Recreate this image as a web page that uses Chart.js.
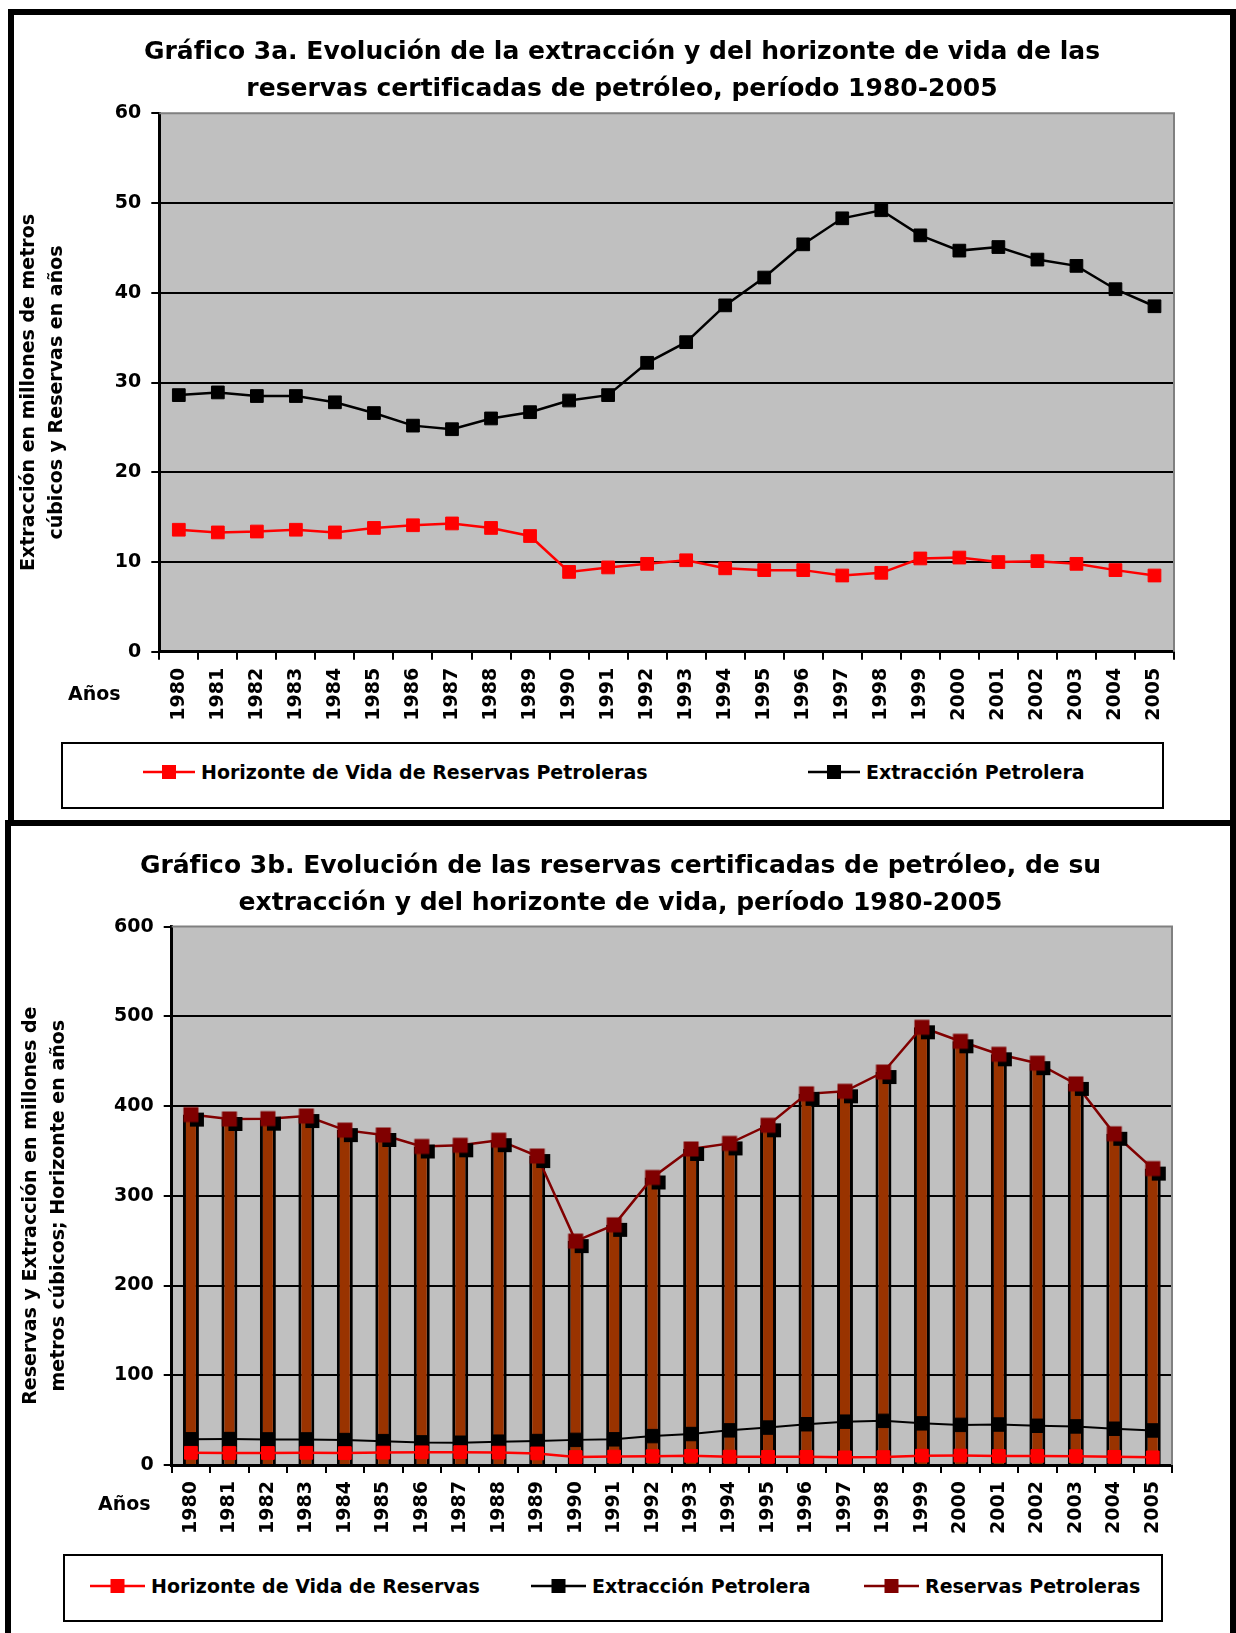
<!DOCTYPE html>
<html lang="es">
<head>
<meta charset="utf-8">
<title>Gráficos 3a y 3b – Reservas y extracción de petróleo 1980-2005</title>
<script src="https://cdn.jsdelivr.net/npm/chart.js@4.4.1/dist/chart.umd.min.js"></script>
<style>
  html, body { margin: 0; padding: 0; background: #fff; width: 1236px; height: 1633px; overflow: hidden; position: relative; }
  .frame { position: absolute; border: 6px solid #000; box-sizing: border-box; }
  #frameA { left: 8px; top: 9px; width: 1228px; height: 817px; }
  #frameB { left: 5px; top: 820px; width: 1231px; height: 830px; }
  canvas { position: absolute; }
  #chartA { left: 14px; top: 15px; }
  #chartB { left: 11px; top: 826px; }
  .legend { position: absolute; border: 2px solid #000; box-sizing: border-box; background: #fff;
            font: bold 19px "DejaVu Sans", sans-serif; color: #000; }
  #legendA { left: 61px; top: 742px; width: 1103px; height: 67px; }
  #legendB { left: 63px; top: 1554px; width: 1100px; height: 68px; }
  .item { position: absolute; height: 22px; line-height: 22px; white-space: nowrap; display: flex; align-items: center; }
  .item svg { display: block; }
</style>
</head>
<body>
<div class="frame" id="frameA"></div>
<div class="frame" id="frameB"></div>
<canvas id="chartA" width="1216" height="805"></canvas>
<canvas id="chartB" width="1219" height="807"></canvas>
<div class="legend" id="legendA"></div>
<div class="legend" id="legendB"></div>

<script>
// ---- Data (1980-2005) ----
const years = ['1980','1981','1982','1983','1984','1985','1986','1987','1988','1989','1990','1991','1992',
               '1993','1994','1995','1996','1997','1998','1999','2000','2001','2002','2003','2004','2005'];

// Extracción petrolera, millones de m³
const extraccion = [28.6, 28.9, 28.5, 28.5, 27.8, 26.6, 25.2, 24.8, 26.0, 26.7, 28.0, 28.6, 32.2,
                    34.5, 38.6, 41.7, 45.4, 48.3, 49.2, 46.4, 44.7, 45.1, 43.7, 43.0, 40.4, 38.5];

// Horizonte de vida de las reservas, años
const horizonte = [13.6, 13.3, 13.4, 13.6, 13.3, 13.8, 14.1, 14.3, 13.8, 12.9, 8.9, 9.4, 9.8,
                   10.2, 9.3, 9.1, 9.1, 8.5, 8.8, 10.4, 10.5, 10.0, 10.1, 9.8, 9.1, 8.5];

// Reservas petroleras certificadas, millones de m³
const reservas = [390.5, 385.6, 386.0, 388.9, 373.2, 367.8, 355.0, 356.3, 362.0, 344.3, 249.5, 267.6, 320.4,
                  352.2, 358.4, 378.6, 413.6, 416.5, 437.9, 487.8, 472.2, 457.7, 447.8, 424.7, 369.1, 330.3];

// Y-axis tick values
const ticksA = [0, 10, 20, 30, 40, 50, 60];
const ticksB = [0, 100, 200, 300, 400, 500, 600];

// ---- Styling ----
const FONT = '"DejaVu Sans", sans-serif';
const RED = '#ff0000';
const BLACK = '#000000';
const MAROON = '#800000';
const BROWN = '#993300';
const PLOT_BG = '#c0c0c0';
const NBSP3 = '\u00a0\u00a0\u00a0';

Chart.defaults.font.family = FONT;
Chart.defaults.color = '#000';

// Square marker with a dark drop shadow, used for the reserves series
function shadowSquare(fill, shadow) {
  const c = document.createElement('canvas');
  c.width = 40; c.height = 40;
  const g = c.getContext('2d');
  g.fillStyle = shadow;
  g.fillRect(20 - 7 + 6, 20 - 7 + 5, 14, 14);
  g.fillStyle = fill;
  g.fillRect(20 - 7.5, 20 - 7.5, 15, 15);
  return c;
}

// Grey plotting area with a grey top/right edge
const plotBackdrop = {
  id: 'plotBackdrop',
  beforeDraw(chart, args, opts) {
    const { ctx, chartArea: a } = chart;
    ctx.save();
    ctx.fillStyle = opts.fill;
    ctx.fillRect(a.left, a.top, a.right - a.left, a.bottom - a.top);
    ctx.restore();
  },
  beforeDatasetsDraw(chart, args, opts) {
    const { ctx, chartArea: a } = chart;
    ctx.save();
    ctx.strokeStyle = opts.edge;
    ctx.lineWidth = 2;
    ctx.beginPath();
    ctx.moveTo(a.left, a.top);
    ctx.lineTo(a.right, a.top);
    ctx.lineTo(a.right, a.bottom);
    ctx.stroke();
    ctx.restore();
  }
};

// "Años" caption to the left of the year labels
const axisCaption = {
  id: 'axisCaption',
  afterDraw(chart, args, opts) {
    const { ctx } = chart;
    ctx.save();
    ctx.font = 'bold 19px ' + FONT;
    ctx.fillStyle = '#000';
    ctx.textBaseline = 'alphabetic';
    ctx.textAlign = 'left';
    ctx.fillText(opts.text, opts.x, opts.y);
    ctx.restore();
  }
};

function xScale(height) {
  return {
    offset: true,
    grid: { offset: true, drawOnChartArea: false, drawTicks: true, tickLength: 8, color: '#000', lineWidth: 2 },
    border: { color: '#000', width: 3 },
    ticks: { minRotation: 90, maxRotation: 90, autoSkip: false, padding: 8, color: '#000',
             font: { family: FONT, size: 19, weight: 'bold' } },
    afterFit(s) { s.height = height; }
  };
}

function yScale(tickValues, width, titleLines, titlePad) {
  const max = tickValues[tickValues.length - 1];
  return {
    min: tickValues[0],
    max: max,
    afterBuildTicks(s) { s.ticks = tickValues.map(v => ({ value: v })); },
    ticks: { padding: 10, color: '#000', font: { family: FONT, size: 19, weight: 'bold' } },
    grid: { color: c => (c.tick && c.tick.value === max) ? 'rgba(0,0,0,0)' : '#000',
            tickColor: '#000', lineWidth: 2, tickLength: 8 },
    border: { color: '#000', width: 3 },
    title: { display: true, text: titleLines, color: '#000',
             font: { family: FONT, size: 19, weight: 'bold', lineHeight: 28 / 19 },
             padding: { top: titlePad, bottom: 0 } },
    afterFit(s) { s.width = width; }
  };
}

// Empty right-hand margin kept as an invisible axis so the title stays centred on the canvas
function rightGutter(width) {
  return {
    position: 'right', display: true,
    grid: { display: false }, border: { display: false }, ticks: { display: false },
    afterFit(s) { s.width = width; }
  };
}

const titleFont = { family: FONT, size: 25, weight: 'bold', lineHeight: 37 / 25 };

// ---- Gráfico 3a ----
new Chart(document.getElementById('chartA'), {
  type: 'line',
  data: {
    labels: years,
    datasets: [
      { label: 'Horizonte de Vida de Reservas Petroleras', data: horizonte,
        borderColor: RED, backgroundColor: RED, borderWidth: 2.5, tension: 0,
        pointStyle: 'rect', pointRadius: 9, pointBorderWidth: 1,
        pointBackgroundColor: RED, pointBorderColor: RED },
      { label: 'Extracción Petrolera', data: extraccion,
        borderColor: BLACK, backgroundColor: BLACK, borderWidth: 2.5, tension: 0,
        pointStyle: 'rect', pointRadius: 9, pointBorderWidth: 1,
        pointBackgroundColor: BLACK, pointBorderColor: BLACK }
    ]
  },
  options: {
    responsive: false, animation: false, devicePixelRatio: 1,
    layout: { padding: { left: 0, right: 0, top: 0, bottom: 68.2 } },
    plugins: {
      legend: { display: false },
      tooltip: { enabled: false },
      title: { display: true, color: '#000', font: titleFont,
               text: ['Gráfico 3a. Evolución de la extracción y del horizonte de vida de las',
                      'reservas certificadas de petróleo, período 1980-2005'],
               padding: { top: 18.8, bottom: 5.5 } },
      plotBackdrop: { fill: PLOT_BG, edge: '#808080' },
      axisCaption: { text: 'Años', x: 54, y: 685 }
    },
    scales: {
      x: xScale(100),
      y: yScale(ticksA, 145.3, ['Extracción en millones de metros' + NBSP3, 'cúbicos y Reservas en años' + NBSP3], 1),
      gutter: rightGutter(56)
    }
  },
  plugins: [plotBackdrop, axisCaption]
});

// ---- Gráfico 3b ----
new Chart(document.getElementById('chartB'), {
  type: 'bar',
  data: {
    labels: years,
    datasets: [
      { type: 'line', label: 'Horizonte de Vida de Reservas', data: horizonte, order: 1,
        borderColor: RED, backgroundColor: RED, borderWidth: 2.5, tension: 0,
        pointStyle: 'rect', pointRadius: 9, pointBorderWidth: 1,
        pointBackgroundColor: RED, pointBorderColor: RED },
      { type: 'line', label: 'Extracción Petrolera', data: extraccion, order: 2,
        borderColor: BLACK, backgroundColor: BLACK, borderWidth: 2, tension: 0,
        pointStyle: 'rect', pointRadius: 9.5, pointBorderWidth: 1,
        pointBackgroundColor: BLACK, pointBorderColor: BLACK },
      { type: 'line', label: 'Reservas Petroleras', data: reservas, order: 3,
        borderColor: MAROON, backgroundColor: MAROON, borderWidth: 2.5, tension: 0,
        pointStyle: shadowSquare(MAROON, BLACK), pointRadius: 8 },
      { type: 'bar', label: 'Reservas', data: reservas, order: 10,
        backgroundColor: BROWN, borderColor: BLACK, borderWidth: 3,
        barPercentage: 0.415, categoryPercentage: 1 }
    ]
  },
  options: {
    responsive: false, animation: false, devicePixelRatio: 1,
    layout: { padding: { left: 0, right: 0, top: 0, bottom: 68 } },
    plugins: {
      legend: { display: false },
      tooltip: { enabled: false },
      title: { display: true, color: '#000', font: titleFont,
               text: ['Gráfico 3b. Evolución de las reservas certificadas de petróleo, de su',
                      'extracción y del horizonte de vida, período 1980-2005'],
               padding: { top: 21.8, bottom: 4.8 } },
      plotBackdrop: { fill: PLOT_BG, edge: '#808080' },
      axisCaption: { text: 'Años', x: 87, y: 684 }
    },
    scales: {
      x: xScale(100),
      y: yScale(ticksB, 160.7, ['Reservas y Extracción en millones de' + NBSP3, 'metros cúbicos; Horizonte en años' + NBSP3], 6.4),
      gutter: rightGutter(58)
    }
  },
  plugins: [plotBackdrop, axisCaption]
});

// ---- Legends ----
function marker(color, width) {
  const mid = width / 2;
  return '<svg width="' + width + '" height="22" viewBox="0 0 ' + width + ' 22">' +
         '<line x1="0" y1="11" x2="' + width + '" y2="11" stroke="' + color + '" stroke-width="2.5"/>' +
         '<rect x="' + (mid - 7) + '" y="4" width="14" height="14" fill="' + color + '"/></svg>';
}

function buildLegend(el, entries, top, markerWidth) {
  entries.forEach(e => {
    const d = document.createElement('div');
    d.className = 'item';
    d.style.left = e.left + 'px';
    d.style.top = top + 'px';
    d.innerHTML = marker(e.color, markerWidth) + '<span style="margin-left:6px">' + e.label + '</span>';
    el.appendChild(d);
  });
}

buildLegend(document.getElementById('legendA'), [
  { label: 'Horizonte de Vida de Reservas Petroleras', color: RED, left: 80 },
  { label: 'Extracción Petrolera', color: BLACK, left: 745 }
], 17.4, 52);

buildLegend(document.getElementById('legendB'), [
  { label: 'Horizonte de Vida de Reservas', color: RED, left: 25 },
  { label: 'Extracción Petrolera', color: BLACK, left: 466 },
  { label: 'Reservas Petroleras', color: MAROON, left: 799 }
], 19.4, 55);
</script>
</body>
</html>
